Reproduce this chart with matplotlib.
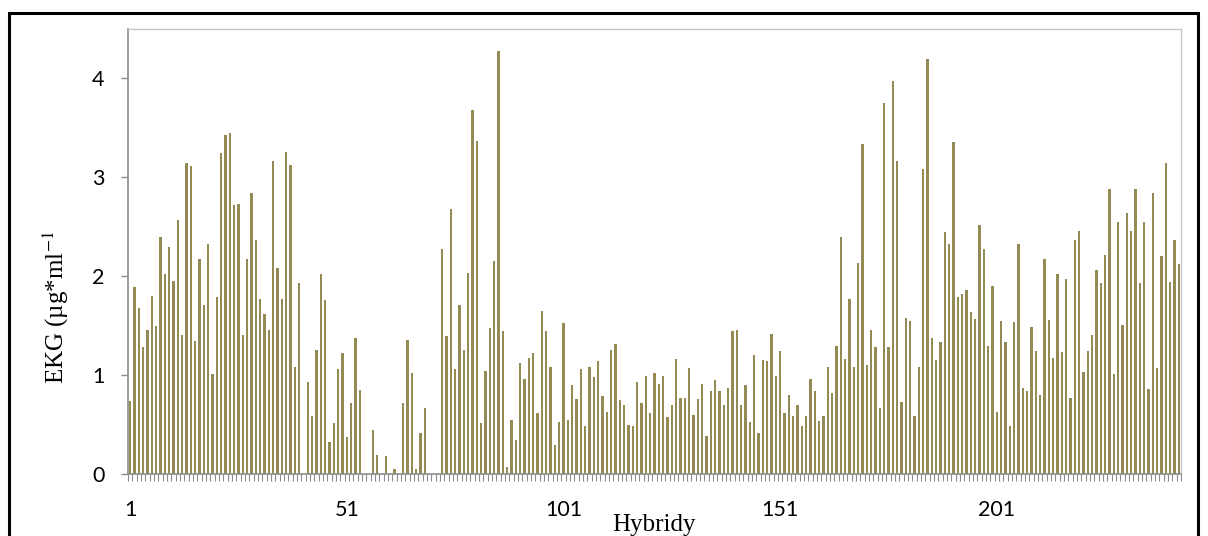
import matplotlib
matplotlib.use("Agg")
import matplotlib.pyplot as plt
from matplotlib.patches import Rectangle
import numpy as np

plt.rcParams['mathtext.fontset'] = 'stix'

# EKG values per hybrid
ekg = [
    0.74, 1.89, 1.68, 1.28, 1.46, 1.80, 1.50, 2.40, 2.02, 2.30,
    1.95, 2.57, 1.41, 3.15, 3.11, 1.34, 2.17, 1.71, 2.33, 1.01,
    1.79, 3.25, 3.43, 3.45, 2.72, 2.73, 1.41, 2.17, 2.84, 2.37,
    1.77, 1.62, 1.46, 3.17, 2.08, 1.77, 3.26, 3.12, 1.08, 1.93,
    0.00, 0.93, 0.59, 1.25, 2.02, 1.76, 0.32, 0.52, 1.06, 1.22,
    0.37, 0.72, 1.38, 0.85, 0.00, 0.00, 0.45, 0.19, 0.00, 0.18,
    0.00, 0.05, 0.00, 0.72, 1.36, 1.02, 0.05, 0.41, 0.67, 0.00,
    0.00, 0.00, 2.28, 1.40, 2.68, 1.06, 1.71, 1.25, 2.03, 3.68,
    3.37, 0.52, 1.04, 1.48, 2.15, 4.28, 1.45, 0.07, 0.55, 0.34,
    1.12, 0.96, 1.17, 1.22, 0.62, 1.65, 1.45, 1.08, 0.29, 0.53,
    1.53, 0.55, 0.90, 0.76, 1.06, 0.49, 1.08, 0.98, 1.14, 0.79,
    0.63, 1.25, 1.31, 0.75, 0.70, 0.50, 0.49, 0.93, 0.72, 0.99,
    0.62, 1.02, 0.91, 0.99, 0.58, 0.70, 1.16, 0.77, 0.77, 1.07,
    0.60, 0.76, 0.91, 0.38, 0.84, 0.95, 0.84, 0.70, 0.87, 1.45,
    1.46, 0.70, 0.90, 0.53, 1.20, 0.41, 1.15, 1.14, 1.42, 0.99,
    1.24, 0.62, 0.80, 0.59, 0.70, 0.49, 0.59, 0.96, 0.84, 0.54,
    0.59, 1.08, 0.82, 1.29, 2.40, 1.16, 1.77, 1.08, 2.13, 3.34,
    1.10, 1.46, 1.28, 0.67, 3.75, 1.28, 3.97, 3.17, 0.73, 1.58,
    1.55, 0.59, 1.08, 3.08, 4.20, 1.38, 1.15, 1.33, 2.45, 2.33,
    3.36, 1.79, 1.82, 1.86, 1.64, 1.57, 2.52, 2.28, 1.29, 1.90,
    0.63, 1.55, 1.33, 0.49, 1.54, 2.33, 0.87, 0.84, 1.49, 1.24,
    0.80, 2.17, 1.56, 1.17, 2.02, 1.23, 1.97, 0.77, 2.37, 2.46,
    1.03, 1.24, 1.41, 2.06, 1.93, 2.21, 2.88, 1.01, 2.55, 1.51,
    2.64, 2.46, 2.88, 1.93, 2.55, 0.86, 2.84, 1.07, 2.20, 3.15,
    1.94, 2.37, 2.12,
]
hybrids = np.arange(1, len(ekg) + 1)
x_tick_labels = [1, 51, 101, 151, 201]
y_ticks = [0, 1, 2, 3, 4]

W, H = 1208, 536
fig = plt.figure(figsize=(W / 100, H / 100), dpi=100)
ax = fig.add_axes([128 / W, 1 - 474 / H, (1181 - 128) / W, (474 - 29) / H])

ax.bar(hybrids, ekg, width=0.5, color='#948A54', linewidth=0)

ax.set_xlim(0.5, len(ekg) + 0.5)
ax.set_ylim(0, 4.5)

ax.set_yticks(y_ticks)
ax.set_yticklabels([str(t) for t in y_ticks], fontsize=15.5, family='Lato')
ax.tick_params(axis='y', length=5, width=1, color='#8c8c8c', pad=12)

ax.set_xticks(x_tick_labels)
ax.set_xticklabels([str(t) for t in x_tick_labels], fontsize=15.5, family='Lato')
ax.tick_params(axis='x', which='major', length=0, pad=19)
ax.set_xticks(np.arange(0.5, len(ekg) + 1, 1), minor=True)
ax.tick_params(axis='x', which='minor', length=5, width=0.8, color='#8c8c8c')

for side in ['left', 'bottom']:
    ax.spines[side].set_color('#8c8c8c')
    ax.spines[side].set_linewidth(1.2)
for side in ['top', 'right']:
    ax.spines[side].set_color('#c8c8c8')
    ax.spines[side].set_linewidth(1.0)

fig.text(56 / W, 1 - 307 / H, 'EKG (µg*ml$^{\\mathsf{-}1}$', rotation=90, fontsize=18,
         family='Liberation Serif', ha='center', va='center')
fig.text(654 / W, 1 - 525 / H, 'Hybridy', fontsize=18,
         family='Liberation Serif', ha='center', va='center')

fig.patches.append(Rectangle((9 / W, -0.1), (1198 - 9) / W, 1.1 - 13 / H,
                             transform=fig.transFigure, fill=False,
                             edgecolor='black', linewidth=2.2))

fig.savefig('out.png', dpi=100)
